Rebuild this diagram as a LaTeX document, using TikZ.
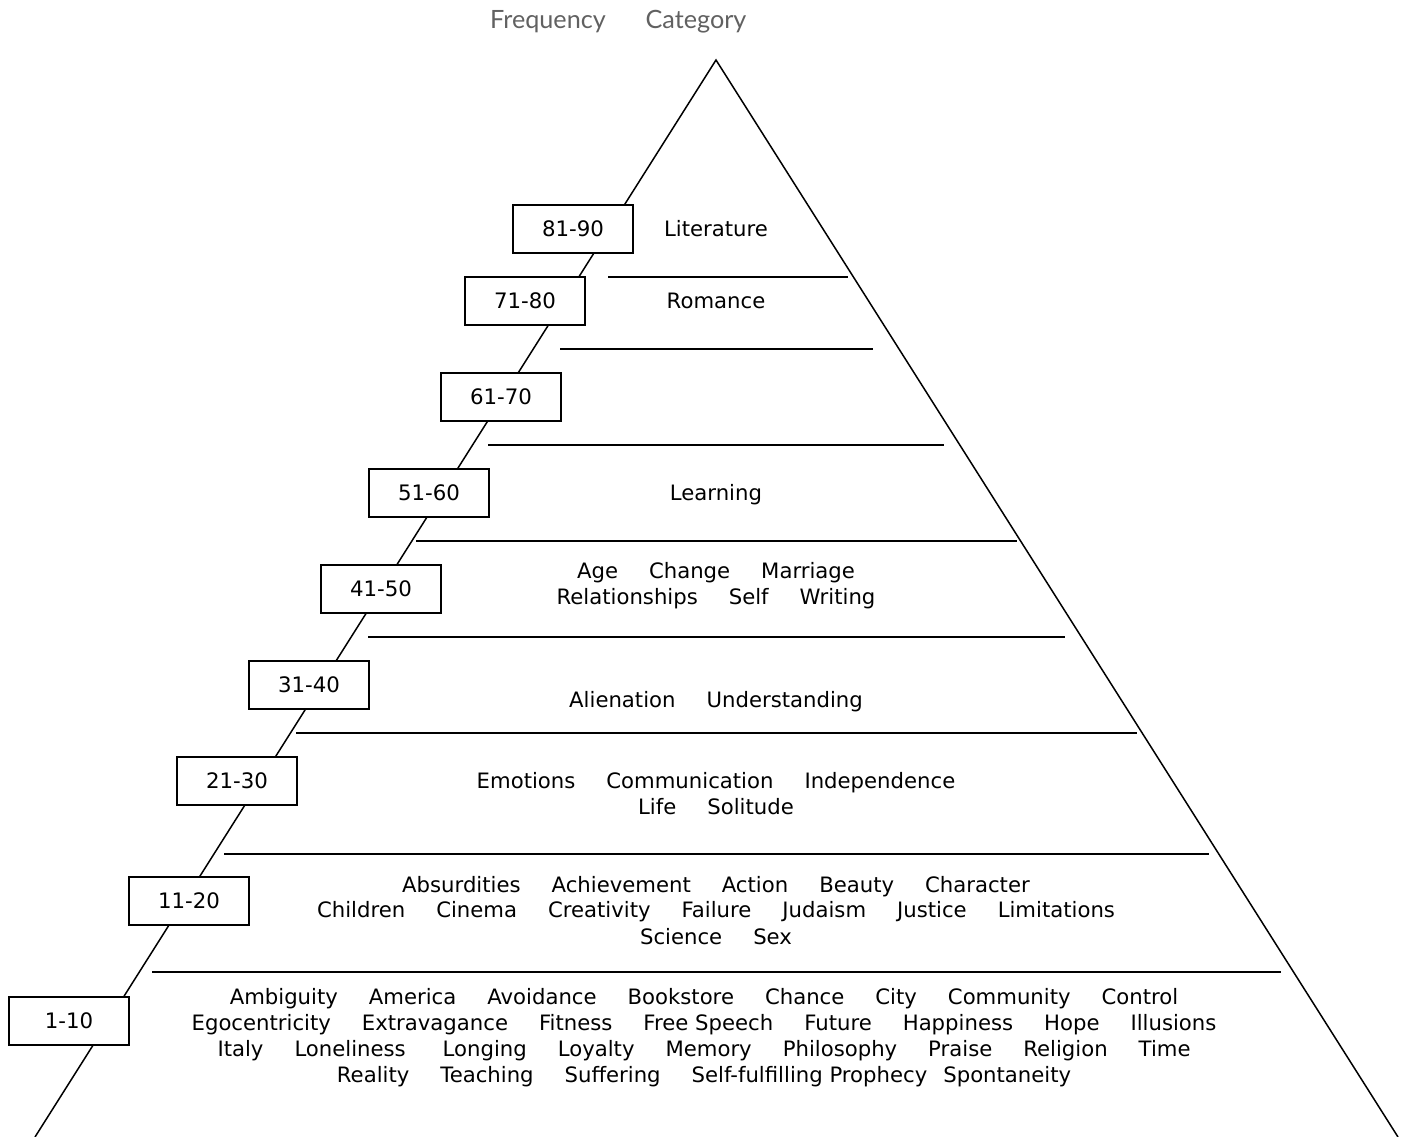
\documentclass[tikz,border=0pt]{standalone}
\usepackage{fontspec}
\setmainfont{DejaVu Sans}
\newfontfamily\headfont{Lato}
\newcommand\gp{\hspace{31pt}}
\begin{document}
\begin{tikzpicture}[x=1pt,y=-1pt,
  ln/.style={line width=1.5pt},
  fbox/.style={draw,line width=1.5pt,fill=white,minimum width=120pt,minimum height=48pt,inner sep=0pt,font=\fontsize{21.3}{24}\selectfont},
  cat/.style={font=\fontsize{21.2}{26}\selectfont,inner sep=0pt,anchor=base},
  hd/.style={font=\headfont\fontsize{25.2}{28}\selectfont,text=black!62,inner sep=0pt}]
\useasboundingbox (0,0) rectangle (1408,1137);
% triangle
\coordinate (apex) at (716,60);
\coordinate (bl) at (35,1137);
\coordinate (br) at (1398,1137);
\draw[ln] (bl) -- (apex) -- (br);
% tier lines
\draw[ln] (608,277) -- (848,277);
\draw[ln] (560,349) -- (873,349);
\draw[ln] (488,445) -- (944,445);
\draw[ln] (416,541) -- (1017,541);
\draw[ln] (368,637) -- (1065,637);
\draw[ln] (296,733) -- (1137,733);
\draw[ln] (224,854) -- (1209,854);
\draw[ln] (152,972) -- (1281,972);
% frequency boxes
\node[fbox] (f9) at (573,229) {81-90};
\node[fbox] (f8) at (525,301) {71-80};
\node[fbox] (f7) at (501,397) {61-70};
\node[fbox] (f6) at (429,493) {51-60};
\node[fbox] (f5) at (381,589) {41-50};
\node[fbox] (f4) at (309,685) {31-40};
\node[fbox] (f3) at (237,781) {21-30};
\node[fbox] (f2) at (189,901) {11-20};
\node[fbox] (f1) at (69,1021) {1-10};
% header
\node[hd] (hf) at (548,22) {Frequency};
\node[hd] (hc) at (696,22) {Category};
% categories
\node[cat] (c1) at (716,236) {Literature};
\node[cat] (c2) at (716,308) {Romance};
\node[cat] (c3) at (716,500) {Learning};
\node[cat] (c4) at (716,578) {Age\gp Change\gp Marriage};
\node[cat] (c5) at (716,604) {Relationships\gp Self\gp Writing};
\node[cat] (c6) at (716,707) {Alienation\gp Understanding};
\node[cat] (c7) at (716,788) {Emotions\gp Communication\gp Independence};
\node[cat] (c8) at (716,814) {Life\gp Solitude};
\node[cat] (c9) at (716,892) {Absurdities\gp Achievement\gp Action\gp Beauty\gp Character};
\node[cat] (c10) at (716,917) {Children\gp Cinema\gp Creativity\gp Failure\gp Judaism\gp Justice\gp Limitations};
\node[cat] (c11) at (716,944) {Science\gp Sex};
\node[cat] (c12) at (704,1004) {Ambiguity\gp America\gp Avoidance\gp Bookstore\gp Chance\gp City\gp Community\gp Control};
\node[cat] (c13) at (704,1030) {Egocentricity\gp Extravagance\gp Fitness\gp Free Speech\gp Future\gp Happiness\gp Hope\gp Illusions};
\node[cat] (c14) at (704,1056) {Italy\gp Loneliness\hspace{37pt}Longing\gp Loyalty\gp Memory\gp Philosophy\gp Praise\gp Religion\gp Time};
\node[cat] (c15) at (704,1082) {Reality\gp Teaching\gp Suffering\gp Self-fulfilling Prophecy\hspace{16pt}Spontaneity};
\end{tikzpicture}
\end{document}
